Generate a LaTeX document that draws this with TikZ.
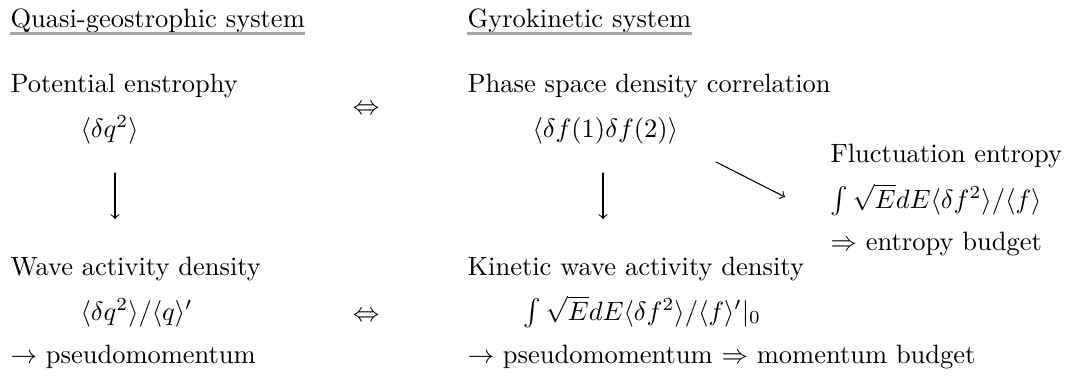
\documentclass[tikz,border=0pt]{standalone}
\usepackage{amsmath}
\tikzset{
  txt/.style={anchor=base west, inner sep=0pt},
  hdrline/.style={gray!70, line width=1.1pt, line cap=butt},
}
\begin{document}
\begin{tikzpicture}[x=0.3774pt, y=-0.3774pt, line cap=round, line join=round]
    \useasboundingbox (0,0) rectangle (1071,379);
    % column headers
    \node[txt] (qgs) at (10,27) {Quasi-geostrophic system};
    \node[txt] (gks) at (467,27) {Gyrokinetic system};
    \foreach \h in {qgs,gks} \draw[hdrline] ([yshift=-2.6pt]\h.base west) -- ([yshift=-2.6pt]\h.base east);
    % quasi-geostrophic side
    \node[txt] (pe) at (10,92) {Potential enstrophy};
    \node[txt] (pq) at (80,137) {$\langle \delta q^2\rangle$};
    \node[txt] (wad) at (10,275) {Wave activity density};
    \node[txt] (wq) at (80,320) {$\langle \delta q^2\rangle/\langle q\rangle'$};
    \node[txt] (pm) at (10,363) {$\to$ pseudomomentum};
    % equivalences
    \node (eq1) at (366,110) {$\Leftrightarrow$};
    \node (eq2) at (366,317) {$\Leftrightarrow$};
    % gyrokinetic side
    \node[txt] (psd) at (467,92) {Phase space density correlation};
    \node[txt] (ff) at (532,137) {$\langle \delta f(1)\delta f(2)\rangle$};
    \node[txt] (kwad) at (467,275) {Kinetic wave activity density};
    \node[txt] (kint) at (523,320) {$\int\sqrt{E}dE\langle \delta f^2\rangle/\langle f\rangle'|_0$};
    \node[txt] (kpm) at (467,363) {$\to$ pseudomomentum $\Rightarrow$ momentum budget};
    % entropy branch
    \node[txt] (fe) at (830,162) {Fluctuation entropy};
    \node[txt] (fint) at (830,208) {$\int\sqrt{E}dE\langle \delta f^2\rangle/\langle f\rangle$};
    \node[txt] (eb) at (830,250) {$\Rightarrow$ entropy budget};
    % arrows
    \coordinate (a1) at (115,173);
    \coordinate (b1) at (115,219);
    \coordinate (a2) at (603,173);
    \coordinate (b2) at (603,219);
    \coordinate (a3) at (716,162);
    \coordinate (b3) at (785,197);
    \draw[->] (a1) -- (b1);
    \draw[->] (a2) -- (b2);
    \draw[->] (a3) -- (b3);
\end{tikzpicture}
\end{document}
